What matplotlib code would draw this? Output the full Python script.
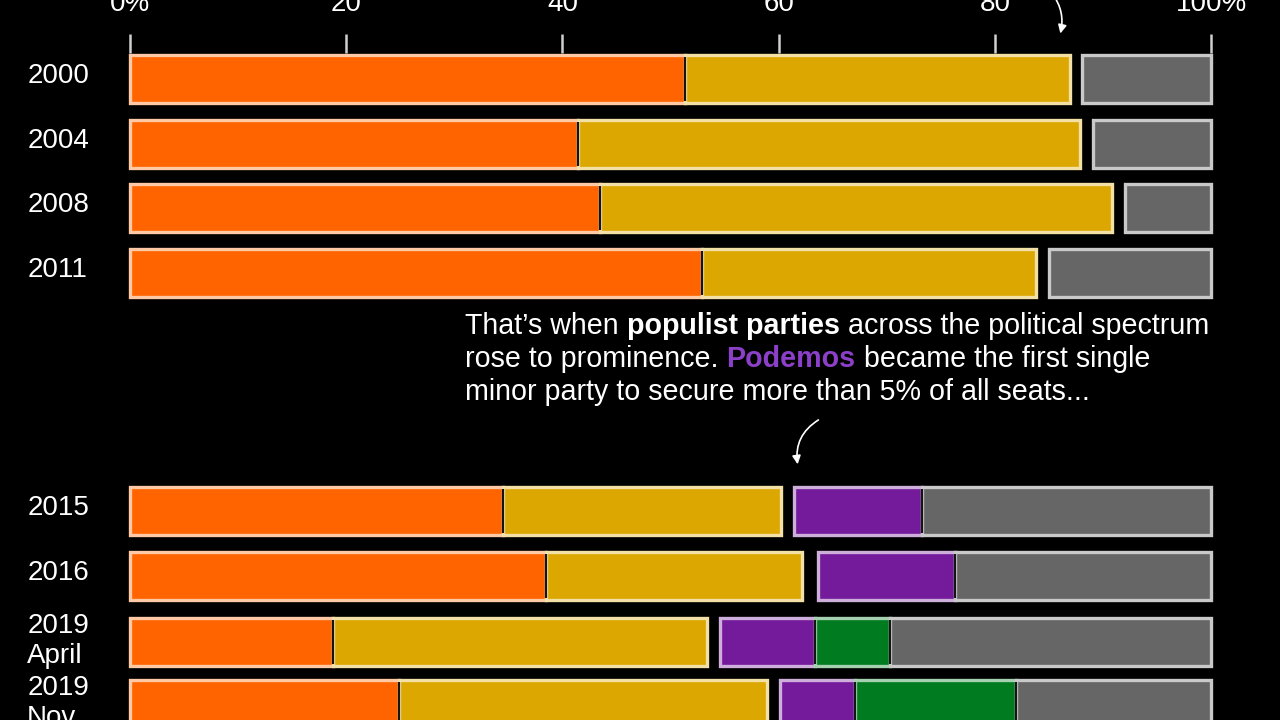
import matplotlib.pyplot as plt
from matplotlib.colors import to_rgb
from matplotlib.transforms import ScaledTranslation

plt.rcParams['font.family'] = ['Liberation Sans', 'DejaVu Sans']

# share of seats (%)
years = ["2000", "2004", "2008", "2011", "2015", "2016", "2019\nApril", "2019\nNov"]
orange = [51.3, 41.4, 43.5, 52.9, 34.5, 38.5, 18.8, 24.9]
yellow = [35.7, 46.5, 47.3, 30.9, 25.7, 23.7, 34.6, 34.0]
purple = [0, 0, 0, 0, 11.9, 12.7, 8.8, 7.0]
green = [0, 0, 0, 0, 0, 0, 6.9, 14.9]
gray = [11.9, 10.9, 8.0, 15.0, 26.7, 23.7, 29.7, 18.0]
xticks = [0, 20, 40, 60, 80, 100]
xticklabels = ["0%", "20", "40", "60", "80", "100%"]

# layout: vertical slot for each row (gap left for the annotation)
row_y = [0, 1, 2, 3, 6.68, 7.68, 8.70, 9.66]
bar_h = 0.74

C_OR, C_YE, C_PU, C_GR, C_GY = "#ff6400", "#dba700", "#741b9b", "#007b1f", "#666666"


def tint(c, f=0.65):
    r, g, b = to_rgb(c)
    return (r + (1 - r) * f, g + (1 - g) * f, b + (1 - b) * f)


fig = plt.figure(figsize=(12.8, 7.2), dpi=100, facecolor="black")
ax = fig.add_axes([130 / 1280, 0, 1081 / 1280, 1 - 53 / 720])
ax.set_facecolor("black")
ax.set_xlim(0, 100)
ax.set_ylim(9.91, -0.40)

for i, y in enumerate(row_y):
    main = [(orange[i], C_OR), (yellow[i], C_YE)]
    others = [(purple[i], C_PU), (green[i], C_GR), (gray[i], C_GY)]
    other_start = 100 - (purple[i] + green[i] + gray[i])
    for segs, start in ((main, 0), (others, other_start)):
        left = start
        bounds = []
        for w, c in segs:
            if w <= 0:
                continue
            ax.barh(y, w, left=left, height=bar_h, color=c,
                    edgecolor=tint(c), linewidth=2.4, zorder=2, clip_on=False)
            left += w
            bounds.append(left)
        # dark dividers between adjacent segments
        for bx in bounds[:-1]:
            ax.vlines(bx, y - bar_h / 2 + 0.03, y + bar_h / 2 - 0.03,
                      color="#141414", linewidth=1.6, zorder=3)

# axes styling
for s in ax.spines.values():
    s.set_visible(False)
ax.xaxis.tick_top()
ax.set_xticks(xticks)
ax.set_xticklabels(xticklabels)
ax.tick_params(axis="x", colors="#cfcfcf", length=14, width=1.8,
               labelsize=20, pad=12, labelcolor="white")
ax.set_yticks(row_y)
ax.set_yticklabels(years, ha="left", ma="left")
ax.tick_params(axis="y", length=0, pad=74, labelsize=20, labelcolor="white")
# year labels sit slightly above the bar centre
shift = ScaledTranslation(0, 6 / 100, fig.dpi_scale_trans)
for lab in ax.get_yticklabels():
    lab.set_transform(lab.get_transform() + shift)

# annotation text with bold / coloured pieces
lines = [
    [("That’s when ", "normal", "white"), ("populist parties", "bold", "white"),
     (" across the political spectrum", "normal", "white")],
    [("rose to prominence. ", "normal", "white"), ("Podemos", "bold", "#8c3fc8"),
     (" became the first single", "normal", "white")],
    [("minor party to secure more than 5% of all seats...", "normal", "white")],
]
line_y = [3.95, 4.46, 4.97]
for parts, ly in zip(lines, line_y):
    prev = None
    for txt, wt, col in parts:
        if prev is None:
            prev = ax.text(31.0, ly, txt, fontsize=20.6, fontweight=wt,
                           color=col, va="baseline", ha="left")
        else:
            prev = ax.annotate(txt, xy=(1, 0), xycoords=prev, fontsize=20.6,
                               fontweight=wt, color=col, va="bottom", ha="left")

# curved arrows
arrow_kw = dict(arrowstyle="-|>,head_length=0.5,head_width=0.25",
                color="white", lw=1.2)
ax.annotate("", xy=(86.0, -0.66), xytext=(85.2, -1.35),
            arrowprops=dict(connectionstyle="arc3,rad=-0.25", **arrow_kw),
            annotation_clip=False)
ax.annotate("", xy=(61.8, 6.0), xytext=(63.9, 5.25),
            arrowprops=dict(connectionstyle="arc3,rad=0.35", **arrow_kw),
            annotation_clip=False)

fig.savefig("out.png", dpi=100, facecolor="black")
